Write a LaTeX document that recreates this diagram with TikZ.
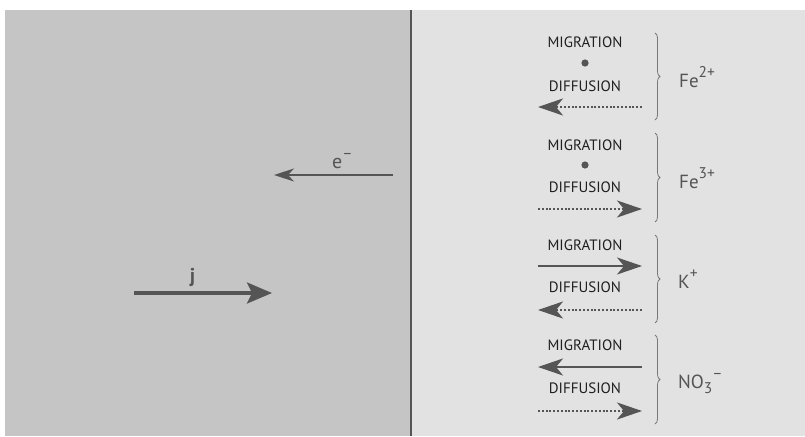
\documentclass[tikz,border=0pt]{standalone}
\usepackage{fontspec}
\setmainfont{PT Sans}
\usetikzlibrary{arrows.meta,positioning,decorations.pathreplacing}
\definecolor{metal}{HTML}{C4C5C4}
\definecolor{soln}{HTML}{E2E2E2}
\definecolor{ink}{HTML}{555555}
\newcommand{\ionup}[1]{\raisebox{0.48em}{\fontsize{15.5}{16}\selectfont #1}}
\newcommand{\iondown}[1]{\raisebox{-0.28em}{\fontsize{15.5}{16}\selectfont #1}}

\begin{document}
\begin{tikzpicture}[x=1pt,y=-1pt,
  flux/.style={font=\fontsize{15}{17}\selectfont,text=black!88,inner sep=0pt},
  ion/.style={font=\fontsize{19}{22}\selectfont,text=ink,anchor=base west,inner sep=0pt},
  migr/.style={draw=ink,line width=2.2pt,-{Stealth[length=25pt,width=17pt,inset=7pt]}},
  diff/.style={draw=ink,line width=2.6pt,dash pattern=on 2pt off 1.8pt,-{Stealth[length=25pt,width=17pt,inset=7pt]}},
  grp/.style={draw=ink!80,line width=0.8pt,decorate,decoration={brace,amplitude=5pt}}]
  \useasboundingbox (0,0) rectangle (805,436);
  \fill[white] (0,0) rectangle (805,436);
  \fill[metal] (5,10) rectangle (410,436);
  \fill[soln] (411,10) rectangle (805,436);
  \draw[ink,line width=2pt] (410.5,10) -- (410.5,436);

  % electrode
  \coordinate (e0) at (393,175);
  \coordinate (e1) at (274,175);
  \draw[ink,line width=1.4pt,-{Stealth[length=20pt,width=13pt,inset=6pt]}] (e0) -- (e1);
  \node[font=\fontsize{20}{22}\selectfont,text=ink,anchor=base west,inner sep=0pt] (elec) at (332,168) {e\ionup{–}};
  \coordinate (j0) at (134,293);
  \coordinate (j1) at (272,293);
  \draw[ink,line width=3.3pt,-{Stealth[length=25pt,width=21pt,inset=5pt]}] (j0) -- (j1);
  \node[font=\fontsize{20}{22}\selectfont\bfseries,text=ink,anchor=base,inner sep=0pt] (jlbl) at (192.5,282) {j};

  % Fe2+
  \node[flux] (mig1) at (585,42) {MIGRATION};
  \fill[ink] (585,63) circle (3.6pt) coordinate (dot1);
  \node[flux] (dif1) at (585,86) {DIFFUSION};
  \coordinate (d1r) at (642,107);
  \coordinate (d1l) at (538,107);
  \draw[diff] (d1r) -- (d1l);
  \draw[grp] (655,33) -- (655,120);
  \node[ion] (fe2) at (679,87) {Fe\ionup{2+}};

  % Fe3+
  \node[flux] (mig2) at (585,145) {MIGRATION};
  \fill[ink] (585,165) circle (3.6pt) coordinate (dot2);
  \node[flux] (dif2) at (585,187) {DIFFUSION};
  \coordinate (d2l) at (538,209);
  \coordinate (d2r) at (642,209);
  \draw[diff] (d2l) -- (d2r);
  \draw[grp] (655,133) -- (655,222);
  \node[ion] (fe3) at (679,188) {Fe\ionup{3+}};

  % K+
  \node[flux] (mig3) at (585,245) {MIGRATION};
  \coordinate (m3l) at (538,266);
  \coordinate (m3r) at (642,266);
  \draw[migr] (m3l) -- (m3r);
  \node[flux] (dif3) at (585,287) {DIFFUSION};
  \coordinate (d3r) at (642,310);
  \coordinate (d3l) at (538,310);
  \draw[diff] (d3r) -- (d3l);
  \draw[grp] (655,235) -- (655,323);
  \node[ion] (kp) at (678,288) {K\ionup{+}};

  % NO3-
  \node[flux] (mig4) at (585,345) {MIGRATION};
  \coordinate (m4r) at (642,367);
  \coordinate (m4l) at (538,367);
  \draw[migr] (m4r) -- (m4l);
  \node[flux] (dif4) at (585,388) {DIFFUSION};
  \coordinate (d4l) at (538,411);
  \coordinate (d4r) at (642,411);
  \draw[diff] (d4l) -- (d4r);
  \draw[grp] (655,335) -- (655,424);
  \node[ion] (no3) at (678,388) {NO\iondown{3}\ionup{–}};
\end{tikzpicture}
\end{document}
